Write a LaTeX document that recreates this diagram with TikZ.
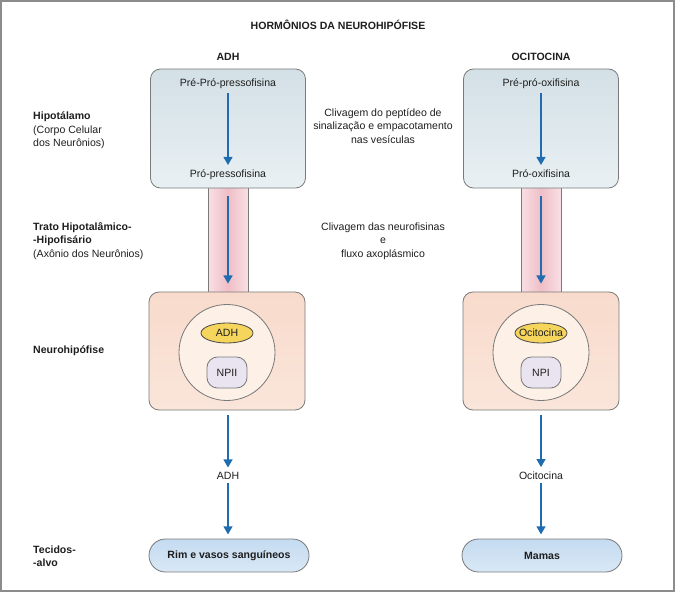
\documentclass[tikz,border=0pt]{standalone}
\usepackage{fontspec}
\setmainfont{Liberation Sans}
\usetikzlibrary{arrows.meta,shapes.geometric,positioning}

\definecolor{setaazul}{HTML}{1F6DB0}
\definecolor{borda}{HTML}{7A7A7A}
\definecolor{moldura}{HTML}{8C8C8C}
\definecolor{texto}{HTML}{1E1E1E}
\definecolor{hipotopo}{HTML}{D3E0E6}
\definecolor{hipobase}{HTML}{E9F0F3}
\definecolor{neurotopo}{HTML}{F8DBCC}
\definecolor{neurobase}{HTML}{FAE5DA}
\definecolor{vesicula}{HTML}{FCF0E7}
\definecolor{hormonio}{HTML}{F5D55C}
\definecolor{neurofisina}{HTML}{E9E4EF}
\definecolor{alvotopo}{HTML}{C4DBF0}
\definecolor{alvobase}{HTML}{D9E8F5}
\definecolor{hasteborda}{HTML}{F8E0E4}
\definecolor{hastemeio}{HTML}{F0BEC7}

\tikzset{
  caixa/.style={draw=borda, line width=0.7pt, rounded corners=8.5pt},
  hipo/.style={caixa, top color=hipotopo, bottom color=hipobase,
    minimum width=4.65cm, minimum height=3.57cm},
  haste/.style={draw=borda, line width=0.7pt, left color=hasteborda,
    right color=hasteborda, middle color=hastemeio,
    minimum width=1.2cm, minimum height=3.3cm},
  neuro/.style={caixa, top color=neurotopo, bottom color=neurobase,
    minimum width=4.68cm, minimum height=3.54cm},
  vesic/.style={circle, draw=borda, line width=0.7pt, fill=vesicula,
    minimum size=2.88cm},
  blob/.style={ellipse, draw=texto!80, line width=0.7pt, fill=hormonio,
    inner xsep=-3.4pt, inner ysep=0pt, minimum width=1.56cm, minimum height=0.6cm},
  npi/.style={draw=borda, line width=0.7pt, fill=neurofisina,
    rounded corners=9pt, minimum width=1.2cm, minimum height=0.93cm},
  alvo/.style={caixa, rounded corners=14pt, top color=alvotopo,
    bottom color=alvobase, minimum width=4.8cm, minimum height=0.99cm,
    font=\fontsize{9}{11.4}\selectfont\bfseries},
  seta/.style={-{Triangle[width=7.5pt,length=7pt]}, line width=1.7pt, setaazul},
  rotulo/.style={anchor=base west, align=left, inner sep=0pt},
  meio/.style={anchor=base, align=center, inner sep=0pt}
}

\begin{document}
\begin{tikzpicture}[x=0.03cm, y=-0.03cm, text=texto,
    font=\fontsize{9}{11.4}\selectfont]

    \useasboundingbox (0,0) rectangle (675,592);
    \draw[moldura, line width=1.7pt] (1,1) rectangle (674,591);

    % titulos
    \node[anchor=base, font=\fontsize{9}{11.4}\selectfont\bfseries] (titulo) at (338,30) {HORMÔNIOS DA NEUROHIPÓFISE};
    \node[anchor=base, font=\fontsize{9}{11.4}\selectfont\bfseries] (colADH) at (228,61) {ADH};
    \node[anchor=base, font=\fontsize{9}{11.4}\selectfont\bfseries] (colOCI) at (541,61) {OCITOCINA};

    % rotulos da esquerda (base = ultima linha)
    \node[rotulo] (hipotalamo) at (33,146.5) {\textbf{Hipotálamo}\\(Corpo Celular\\dos Neurônios)};
    \node[rotulo] (trato) at (33,257) {\textbf{Trato Hipotalâmico-}\\\textbf{-Hipofisário}\\(Axônio dos Neurônios)};
    \node[rotulo, font=\fontsize{9}{11.4}\selectfont\bfseries] (neurohip) at (33,353) {Neurohipófise};
    \node[rotulo, font=\fontsize{9}{11.4}\selectfont\bfseries] (tecidos) at (33,566.5) {Tecidos-\\-alvo};

    % textos do meio
    \node[meio] (clivA) at (383,143) {Clivagem do peptídeo de\\sinalização e empacotamento\\nas vesículas};
    \node[meio] (clivB) at (383,257) {Clivagem das neurofisinas\\e\\fluxo axoplásmico};

    % hastes (axonios)
    \node[haste] (hasteA) at (228,240) {};
    \node[haste] (hasteB) at (541,240) {};

    % hipotalamo
    \node[hipo] (hipoA) at (228,128.5) {};
    \node[hipo] (hipoB) at (541,128.5) {};
    \node[anchor=base] (preA) at (228,87) {Pré-Pró-pressofisina};
    \node[anchor=base] (proA) at (228,177) {Pró-pressofisina};
    \node[anchor=base] (preB) at (541,87) {Pré-pró-oxifisina};
    \node[anchor=base] (proB) at (541,177) {Pró-oxifisina};

    % neurohipofise
    \node[neuro] (neuroA) at (227,351) {};
    \node[neuro] (neuroB) at (541,351) {};
    \node[vesic] (vesA) at (227,352.5) {};
    \node[vesic] (vesB) at (541,352.5) {};
    \node[blob] (adhA) at (227,333) {ADH};
    \node[blob] (ociB) at (541,333) {Ocitocina};
    \node[npi] (npiA) at (227,372.5) {NPII};
    \node[npi] (npiB) at (541,372.5) {NPI};

    % hormonio liberado e tecidos-alvo
    \node[anchor=base] (lblA) at (228,479) {ADH};
    \node[anchor=base] (lblB) at (541,479) {Ocitocina};
    \node[alvo] (alvoA) at (229,555.5) {Rim e vasos sanguíneos};
    \node[alvo] (alvoB) at (542,555.5) {Mamas};

    % setas
    \draw[seta] (preA) -- (proA);
    \draw[seta] (preB) -- (proB);
    \draw[seta, shorten <=10pt, shorten >=10pt] (hasteA.north) -- (hasteA.south);
    \draw[seta, shorten <=10pt, shorten >=10pt] (hasteB.north) -- (hasteB.south);
    \draw[seta, shorten <=4pt] (neuroA.south -| lblA) -- (lblA);
    \draw[seta, shorten <=4pt] (neuroB.south -| lblB) -- (lblB);
    \draw[seta, shorten >=3.5pt] (lblA) -- (alvoA.north -| lblA);
    \draw[seta, shorten >=3.5pt] (lblB) -- (alvoB.north -| lblB);

\end{tikzpicture}
\end{document}
